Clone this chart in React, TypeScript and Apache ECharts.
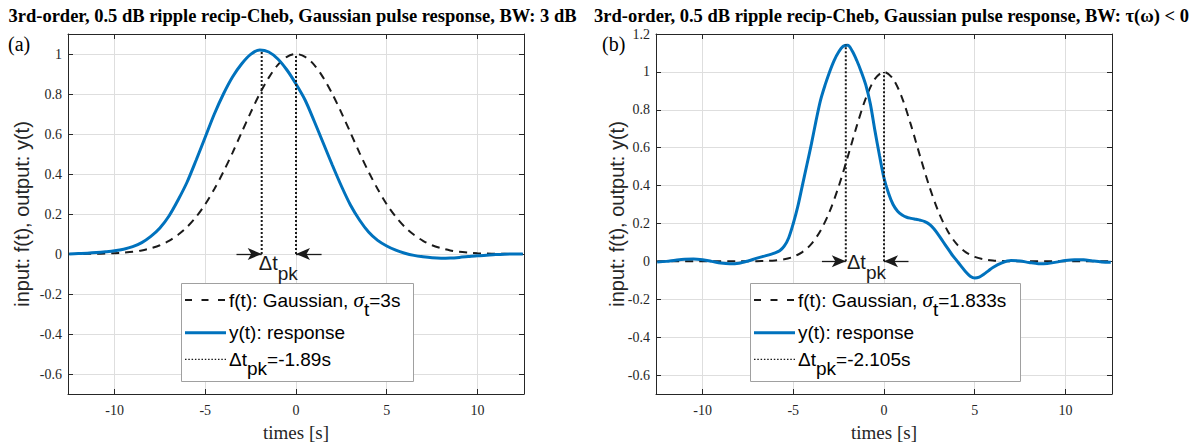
import React, { useEffect, useRef } from 'react';
import * as echarts from 'echarts';

// ---------------- data ----------------
const TIME_GRID = [
  -12.5, -12, -11.5, -11, -10.5, -10, -9.5, -9, -8.5, -8, -7.5, -7, -6.5, -6, -5.5, -5, -4.5, -4, -3.5, -3, -2.5, -2, -1.5, -1, -0.5,
  0, 0.5, 1, 1.5, 2, 2.5, 3, 3.5, 4, 4.5, 5, 5.5, 6, 6.5, 7, 7.5, 8, 8.5, 9, 9.5, 10, 10.5, 11, 11.5, 12, 12.5,
];

// panel (a): input Gaussian (sigma 3 s) and response
const INPUT_A = [
  0.0, 0.0, 0.001, 0.001, 0.002, 0.004, 0.007, 0.011, 0.018, 0.029, 0.044, 0.066, 0.096, 0.135, 0.186, 0.249, 0.325, 0.411, 0.506, 0.607, 0.707, 0.801, 0.882, 0.946, 0.986,
  1.0, 0.986, 0.946, 0.882, 0.801, 0.707, 0.607, 0.506, 0.411, 0.325, 0.249, 0.186, 0.135, 0.096, 0.066, 0.044, 0.029, 0.018, 0.011, 0.007, 0.004, 0.002, 0.001, 0.001, 0.0, 0.0,
];
const OUTPUT_A = [
  0.0, 0.002, 0.004, 0.007, 0.011, 0.016, 0.024, 0.037, 0.057, 0.088, 0.13, 0.19, 0.27, 0.36, 0.47, 0.585, 0.7, 0.8, 0.885, 0.95, 0.998, 1.02, 1.01, 0.975, 0.92,
  0.85, 0.77, 0.665, 0.555, 0.445, 0.34, 0.245, 0.17, 0.11, 0.068, 0.04, 0.019, 0.004, -0.007, -0.014, -0.019, -0.021, -0.02, -0.017, -0.013, -0.009, -0.006, -0.003, -0.001, 0.0, 0.0,
];

// panel (b): input Gaussian (sigma 1.833 s) and response
const INPUT_B = [
  0, 0, 0, 0, 0, 0, 0, 0, 0, 0, 0, 0.001, 0.002, 0.005, 0.011, 0.024, 0.049, 0.092, 0.162, 0.262, 0.395, 0.551, 0.715, 0.862, 0.963,
  1.0, 0.963, 0.862, 0.715, 0.551, 0.395, 0.262, 0.162, 0.092, 0.049, 0.024, 0.011, 0.005, 0.002, 0.001, 0, 0, 0, 0, 0, 0, 0, 0, 0, 0, 0,
];
const TIME_B_OUT = [
  -12.5, -12, -11.5, -11, -10.5, -10, -9.5, -9, -8.5, -8, -7.5, -7, -6.5,
  -6, -5.75, -5.5, -5.25, -5, -4.75, -4.5, -4.25, -4, -3.75, -3.5, -3.25, -3, -2.75, -2.5, -2.25, -2, -1.75, -1.5, -1.25, -1, -0.75, -0.5, -0.25,
  0, 0.25, 0.5, 0.75, 1, 1.25, 1.5, 1.75, 2, 2.25, 2.5, 2.75, 3, 3.25, 3.5, 3.75, 4, 4.25, 4.5, 4.75, 5, 5.25, 5.5, 5.75, 6,
  6.5, 7, 7.5, 8, 8.5, 9, 9.5, 10, 10.5, 11, 11.5, 12, 12.5,
];
const OUTPUT_B = [
  -0.004, 0.0, 0.006, 0.011, 0.012, 0.008, 0.0, -0.009, -0.013, -0.01, 0.002, 0.017, 0.03,
  0.045, 0.056, 0.08, 0.125, 0.2, 0.29, 0.4, 0.51, 0.62, 0.74, 0.85, 0.93, 1.0, 1.06, 1.105, 1.135, 1.14, 1.11, 1.06, 1.0, 0.93, 0.83, 0.69, 0.56,
  0.44, 0.36, 0.3, 0.265, 0.245, 0.233, 0.227, 0.222, 0.217, 0.21, 0.196, 0.172, 0.14, 0.105, 0.07, 0.035, 0.005, -0.025, -0.055, -0.078, -0.088, -0.083, -0.068, -0.05, -0.032,
  -0.008, 0.004, 0.002, -0.006, -0.012, -0.011, -0.004, 0.005, 0.009, 0.008, 0.002, -0.003, -0.005,
];

// peak markers (time, value) and arrow tails
const PEAK_T_A = [-1.89, 0];
const PEAK_V_A = [1.02, 1.0];
const ARROW_TAIL_A = [-3.28, 1.41];
const PEAK_T_B = [-2.105, 0];
const PEAK_V_B = [1.145, 1.0];
const ARROW_TAIL_B = [-3.42, 1.35];
const DT_LABEL_POS_A = [-2.05, -0.045];
const DT_LABEL_POS_B = [-2.04, -0.004];

// axes
const X_MIN = -12.566;
const X_MAX = 12.566;
const X_TICKS = [-10, -5, 0, 5, 10];
const Y_RANGE_A = [-0.7, 1.1];
const Y_RANGE_B = [-0.7, 1.2];
const Y_TICKS_A = [-0.6, -0.4, -0.2, 0, 0.2, 0.4, 0.6, 0.8, 1];
const Y_TICKS_B = [-0.6, -0.4, -0.2, 0, 0.2, 0.4, 0.6, 0.8, 1, 1.2];

// texts
const TITLE_A = '3rd-order, 0.5 dB ripple recip-Cheb, Gaussian pulse response, BW: 3 dB';
const TITLE_B = '3rd-order, 0.5 dB ripple recip-Cheb, Gaussian pulse response, BW: τ(ω) < 0';
const PANEL_TAGS = ['(a)', '(b)'];
const Y_NAME = 'input: f(t), output: y(t)';
const X_NAME = 'times [s]';
const SIGMA_TEXT = ['=3s', '=1.833s'];
const DT_TEXT = ['=-1.89s', '=-2.105s'];

// ---------------- styling ----------------
const W = 1192;
const H = 443;
const SANS = "'Liberation Sans', Arial, Helvetica, sans-serif";
const SERIF = "'Liberation Serif', 'Times New Roman', Times, serif";
const AXIS_COLOR = '#262626';
const GRID_COLOR = '#dedede';
const BLUE = '#0072BD';
const BLACK = '#1a1a1a';

const GRIDS = [
  { left: 68, top: 34, width: 456, height: 360 },
  { left: 656, top: 34, width: 456, height: 360 },
];

let measureCtx: CanvasRenderingContext2D | null = null;
function measure(text: string, font: string): number {
  if (!measureCtx) measureCtx = document.createElement('canvas').getContext('2d');
  measureCtx!.font = font;
  return measureCtx!.measureText(text).width;
}

type Piece = { t: string; size: number; family: string; italic?: boolean; dy?: number };

function textRun(x: number, y: number, pieces: Piece[], color = '#000'): any[] {
  const els: any[] = [];
  let cx = x;
  for (const p of pieces) {
    const fontStyle = p.italic ? 'italic' : 'normal';
    els.push({
      type: 'text',
      x: cx,
      y: y + (p.dy || 0),
      z: 101,
      silent: true,
      style: {
        text: p.t,
        fontSize: p.size,
        fontFamily: p.family,
        fontStyle,
        fill: color,
        textAlign: 'left',
        align: 'left',
        textVerticalAlign: 'middle',
        verticalAlign: 'middle',
      },
    });
    cx += measure(p.t, `${fontStyle} normal ${p.size}px ${p.family}`);
  }
  return els;
}

function legend(x0: number, y0: number, w: number, h: number, idx: number): any[] {
  const els: any[] = [];
  els.push({
    type: 'rect',
    z: 100,
    silent: true,
    shape: { x: x0 + 0.5, y: y0 + 0.5, width: w, height: h },
    style: { fill: '#ffffff', stroke: '#a0a0a0', lineWidth: 1 },
  });
  const rows = [y0 + 17, y0 + 49.7, y0 + 76.3];
  const lx1 = x0 + 4;
  const lx2 = x0 + 45;
  const tx = x0 + 48;
  els.push({
    type: 'line', z: 101, silent: true,
    shape: { x1: lx1, y1: rows[0], x2: lx2, y2: rows[0] },
    style: { stroke: BLACK, lineWidth: 2, lineDash: [7, 9.5] },
  });
  els.push({
    type: 'line', z: 101, silent: true,
    shape: { x1: lx1, y1: rows[1], x2: lx2, y2: rows[1] },
    style: { stroke: BLUE, lineWidth: 3 },
  });
  els.push({
    type: 'line', z: 101, silent: true,
    shape: { x1: lx1, y1: rows[2], x2: lx2, y2: rows[2] },
    style: { stroke: BLACK, lineWidth: 1.2, lineDash: [1.5, 1.8] },
  });
  els.push(
    ...textRun(tx, rows[0], [
      { t: 'f(t): Gaussian, ', size: 19, family: SANS },
      { t: 'σ', size: 21, family: SERIF, italic: true },
      { t: 't', size: 19, family: SANS, dy: 9 },
      { t: SIGMA_TEXT[idx], size: 19, family: SANS },
    ], '#000'),
  );
  els.push(...textRun(tx, rows[1], [{ t: 'y(t): response', size: 19, family: SANS }], '#000'));
  els.push(
    ...textRun(tx, rows[2], [
      { t: 'Δt', size: 19, family: SANS },
      { t: 'pk', size: 19, family: SANS, dy: 9 },
      { t: DT_TEXT[idx], size: 19, family: SANS },
    ], '#000'),
  );
  return els;
}

function zip(t: number[], v: number[]): number[][] {
  return t.map((x, i) => [x, v[i]]);
}

function axesFor(i: number, yRange: number[], yTicks: number[]) {
  const common = {
    gridIndex: i,
    type: 'value' as const,
    axisLine: { show: true, onZero: false, lineStyle: { color: AXIS_COLOR, width: 1 } },
  };
  const labelStyle = { fontFamily: SERIF, fontSize: 14, color: AXIS_COLOR };
  const xAxes = [
    {
      ...common,
      position: 'bottom',
      min: X_MIN,
      max: X_MAX,
      axisTick: { show: true, inside: true, length: 5, customValues: X_TICKS, lineStyle: { color: AXIS_COLOR } },
      axisLabel: { ...labelStyle, margin: 9, customValues: X_TICKS, formatter: (v: number) => String(v) },
      splitLine: { show: true, lineStyle: { color: GRID_COLOR, width: 1 } },
    },
    {
      ...common,
      position: 'top',
      min: X_MIN,
      max: X_MAX,
      axisTick: { show: true, inside: true, length: 5, customValues: X_TICKS, lineStyle: { color: AXIS_COLOR } },
      axisLabel: { show: false },
      splitLine: { show: false },
    },
  ];
  const yAxes = [
    {
      ...common,
      position: 'left',
      min: yRange[0],
      max: yRange[1],
      axisTick: { show: true, inside: true, length: 5, customValues: yTicks, lineStyle: { color: AXIS_COLOR } },
      axisLabel: { ...labelStyle, margin: 6, customValues: yTicks, formatter: (v: number) => String(v) },
      splitLine: { show: true, lineStyle: { color: GRID_COLOR, width: 1 } },
    },
    {
      ...common,
      position: 'right',
      min: yRange[0],
      max: yRange[1],
      axisTick: { show: true, inside: true, length: 5, customValues: yTicks, lineStyle: { color: AXIS_COLOR } },
      axisLabel: { show: false },
      splitLine: { show: false },
    },
  ];
  return { xAxes, yAxes };
}

function seriesFor(i: number, tIn: number[], fIn: number[], tOut: number[], yOut: number[], peakT: number[], peakV: number[], tails: number[]) {
  const ax = { xAxisIndex: 2 * i, yAxisIndex: 2 * i };
  const list: any[] = [
    {
      ...ax,
      type: 'line',
      name: `input-${i}`,
      data: zip(tIn, fIn),
      showSymbol: false,
      smooth: 0.3,
      lineStyle: { color: BLACK, width: 2, type: [8, 6] },
      z: 2,
      markLine: {
        silent: true,
        symbol: ['none', 'arrow'],
        symbolSize: [9, 14],
        label: { show: false },
        lineStyle: { color: BLACK, width: 1.3, type: 'solid' },
        data: tails.map((tt, k) => [{ coord: [tt, 0] }, { coord: [peakT[k], 0] }]),
      },
    },
    {
      ...ax,
      type: 'line',
      name: `output-${i}`,
      data: zip(tOut, yOut),
      showSymbol: false,
      smooth: 0.3,
      lineStyle: { color: BLUE, width: 3 },
      z: 3,
    },
  ];
  peakT.forEach((pt, k) => {
    list.push({
      ...ax,
      type: 'line',
      name: `peak-${i}-${k}`,
      data: [[pt, 0], [pt, peakV[k]]],
      showSymbol: false,
      lineStyle: { color: BLACK, width: 2, type: [2, 2] },
      z: 4,
    });
  });
  return list;
}

export default function App() {
  const ref = useRef<HTMLDivElement>(null);

  useEffect(() => {
    document.body.style.margin = '0';
    const chart = echarts.init(ref.current!, null, { renderer: 'svg', width: W, height: H });
    const a = axesFor(0, Y_RANGE_A, Y_TICKS_A);
    const b = axesFor(1, Y_RANGE_B, Y_TICKS_B);
    chart.setOption({
      animation: false,
      backgroundColor: '#ffffff',
      grid: GRIDS.map((g) => ({ ...g, show: false, containLabel: false })),
      xAxis: [...a.xAxes, ...b.xAxes],
      yAxis: [...a.yAxes, ...b.yAxes],
      series: [
        ...seriesFor(0, TIME_GRID, INPUT_A, TIME_GRID, OUTPUT_A, PEAK_T_A, PEAK_V_A, ARROW_TAIL_A),
        ...seriesFor(1, TIME_GRID, INPUT_B, TIME_B_OUT, OUTPUT_B, PEAK_T_B, PEAK_V_B, ARROW_TAIL_B),
      ],
    });

    const g: any[] = [];
    const titleStyle = (text: string) => ({
      text,
      fontSize: 18.5,
      fontWeight: 'bold',
      fontFamily: SERIF,
      fill: '#000',
      textAlign: 'left',
      align: 'left',
      textVerticalAlign: 'middle',
      verticalAlign: 'middle',
    });
    g.push({ type: 'text', x: 8.5, y: 15.5, silent: true, style: titleStyle(TITLE_A) });
    g.push({ type: 'text', x: 594, y: 15.5, silent: true, style: titleStyle(TITLE_B) });
    [8, 602].forEach((x, i) => {
      g.push({
        type: 'text', x, y: 44, silent: true,
        style: { text: PANEL_TAGS[i], fontSize: 20, fontFamily: SERIF, fill: '#000', textAlign: 'left', align: 'left', textVerticalAlign: 'middle', verticalAlign: 'middle' },
      });
    });
    [22, 617].forEach((x) => {
      g.push({
        type: 'text', x, y: 214, rotation: Math.PI / 2, silent: true,
        style: { text: Y_NAME, fontSize: 20, fontFamily: SANS, fill: AXIS_COLOR, textAlign: 'center', align: 'center', textVerticalAlign: 'middle', verticalAlign: 'middle' },
      });
    });
    GRIDS.forEach((gr) => {
      g.push({
        type: 'text', x: gr.left + gr.width / 2, y: 432, silent: true,
        style: { text: X_NAME, fontSize: 19, fontFamily: SERIF, fill: AXIS_COLOR, textAlign: 'center', align: 'center', textVerticalAlign: 'middle', verticalAlign: 'middle' },
      });
    });
    // delta t_pk annotations placed through the axis scales
    [DT_LABEL_POS_A, DT_LABEL_POS_B].forEach((pos, i) => {
      const px = chart.convertToPixel({ xAxisIndex: 2 * i, yAxisIndex: 2 * i }, pos) as number[];
      g.push(
        ...textRun(px[0], px[1], [
          { t: 'Δt', size: 20, family: SANS },
          { t: 'pk', size: 19, family: SANS, dy: 10 },
        ], BLACK),
      );
    });
    g.push(...legend(181, 283, 232, 98, 0));
    g.push(...legend(750, 283, 270, 98, 1));

    chart.setOption({ graphic: g });

    return () => chart.dispose();
  }, []);

  return <div ref={ref} style={{ width: W, height: H }} />;
}
